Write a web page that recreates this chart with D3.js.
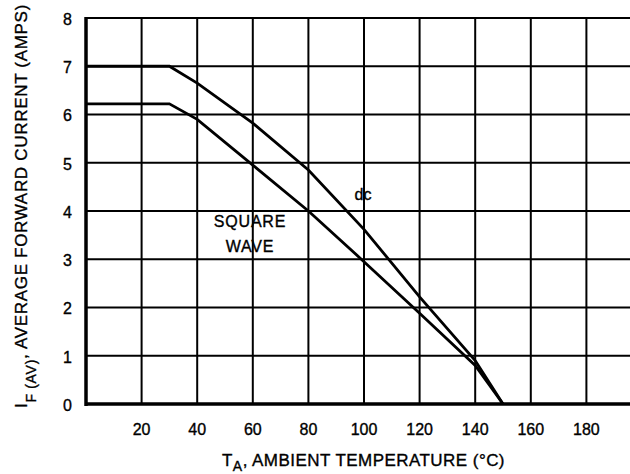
<!DOCTYPE html>
<html lang="en">
<head>
<meta charset="UTF-8">
<title>Forward current derating</title>
<script src="https://d3js.org/d3.v7.min.js"></script>
<style>
  body{ margin:0; background:#fff; }
  .chart text{ font-family:"Liberation Sans", Arial, sans-serif; fill:#000; stroke:#000; stroke-width:0.35px; }
  .tick-lbl{ font-size:16px; }
  .title{ font-size:17px; }
  .note{ font-size:16px; }
</style>
</head>
<body>
<svg class="chart"></svg>
<script>
// temperature (°C) vs average forward current (A)
const dcTemp   = [0, 30, 40, 60, 80, 100, 120, 140, 150];
const dcAmps   = [7.0, 7.0, 6.65, 5.82, 4.85, 3.62, 2.22, 0.9, 0];
const sqTemp   = [0, 30, 40, 60, 80, 100, 120, 140, 150];
const sqAmps   = [6.22, 6.22, 5.9, 4.95, 4.0, 2.95, 1.88, 0.8, 0];
const xTicks   = [20, 40, 60, 80, 100, 120, 140, 160, 180];
const yTicks   = [0, 1, 2, 3, 4, 5, 6, 7, 8];

const W = 630, H = 474;
const margin = {top:18, left:86};
const plotW = 556, plotH = 386;

const svg = d3.select('.chart').attr('width', W).attr('height', H);

const x = d3.scaleLinear().domain([0, 200]).range([margin.left, margin.left + plotW]);
const y = d3.scaleLinear().domain([0, 8]).range([margin.top + plotH, margin.top]);

// grid
svg.append('g').selectAll('line')
   .data(xTicks).enter().append('line')
   .attr('x1', d => x(d)).attr('x2', d => x(d))
   .attr('y1', y(8)).attr('y2', y(0))
   .attr('stroke', '#000').attr('stroke-width', 2);
svg.append('g').selectAll('line')
   .data(yTicks.filter(d => d > 0)).enter().append('line')
   .attr('x1', x(0)).attr('x2', x(200))
   .attr('y1', d => y(d)).attr('y2', d => y(d))
   .attr('stroke', '#000').attr('stroke-width', 2);

// heavier axis lines
svg.append('line').attr('x1', x(0)).attr('x2', x(0)).attr('y1', y(8) - 1).attr('y2', y(0) + 2)
   .attr('stroke', '#000').attr('stroke-width', 3.5);
svg.append('line').attr('x1', x(0) - 1).attr('x2', x(200)).attr('y1', y(0)).attr('y2', y(0))
   .attr('stroke', '#000').attr('stroke-width', 3.5);

// tick labels
svg.append('g').selectAll('text')
   .data(yTicks).enter().append('text')
   .attr('class', 'tick-lbl')
   .attr('x', 72).attr('y', d => y(d) + 1).attr('dy', '0.36em')
   .attr('text-anchor', 'end')
   .text(d => d);
svg.append('g').selectAll('text')
   .data(xTicks).enter().append('text')
   .attr('class', 'tick-lbl')
   .attr('x', d => x(d)).attr('y', 435)
   .attr('text-anchor', 'middle')
   .text(d => d);

// curves
const line = d3.line().x(d => x(d[0])).y(d => y(d[1]));
svg.append('path').datum(d3.zip(dcTemp, dcAmps)).attr('d', line)
   .attr('fill', 'none').attr('stroke', '#000').attr('stroke-width', 2.8);
svg.append('path').datum(d3.zip(sqTemp, sqAmps)).attr('d', line)
   .attr('fill', 'none').attr('stroke', '#000').attr('stroke-width', 2.8);

// curve labels
svg.append('text').attr('class', 'note').attr('x', 363).attr('y', 200).attr('text-anchor', 'middle').text('dc');
const sq = svg.append('text').attr('class', 'note').attr('text-anchor', 'middle').style('letter-spacing', '0.8px');
sq.append('tspan').attr('x', 250).attr('y', 227).text('SQUARE');
sq.append('tspan').attr('x', 250).attr('y', 252).text('WAVE');

// stretch a title so it spans the same length as in the reference
function fit(t, target) {
  const n = t.text().length;
  const w = t.node().getComputedTextLength();
  t.style('letter-spacing', ((target - w) / n) + 'px');
}

// axis titles
const xt = svg.append('text').attr('class', 'title').attr('x', 222).attr('y', 466);
xt.append('tspan').text('T');
xt.append('tspan').attr('dy', 5).attr('font-size', 14).text('A');
xt.append('tspan').attr('dy', -5).text(', AMBIENT TEMPERATURE (°C)');
fit(xt, 283);

const yt = svg.append('text').attr('class', 'title')
   .attr('transform', 'translate(27,408) rotate(-90)');
yt.append('tspan').text('I');
yt.append('tspan').attr('dy', 9).attr('font-size', 14).text('F (AV)');
yt.append('tspan').attr('dy', -9).text(', AVERAGE FORWARD CURRENT (AMPS)');
fit(yt, 404);
</script>
</body>
</html>
